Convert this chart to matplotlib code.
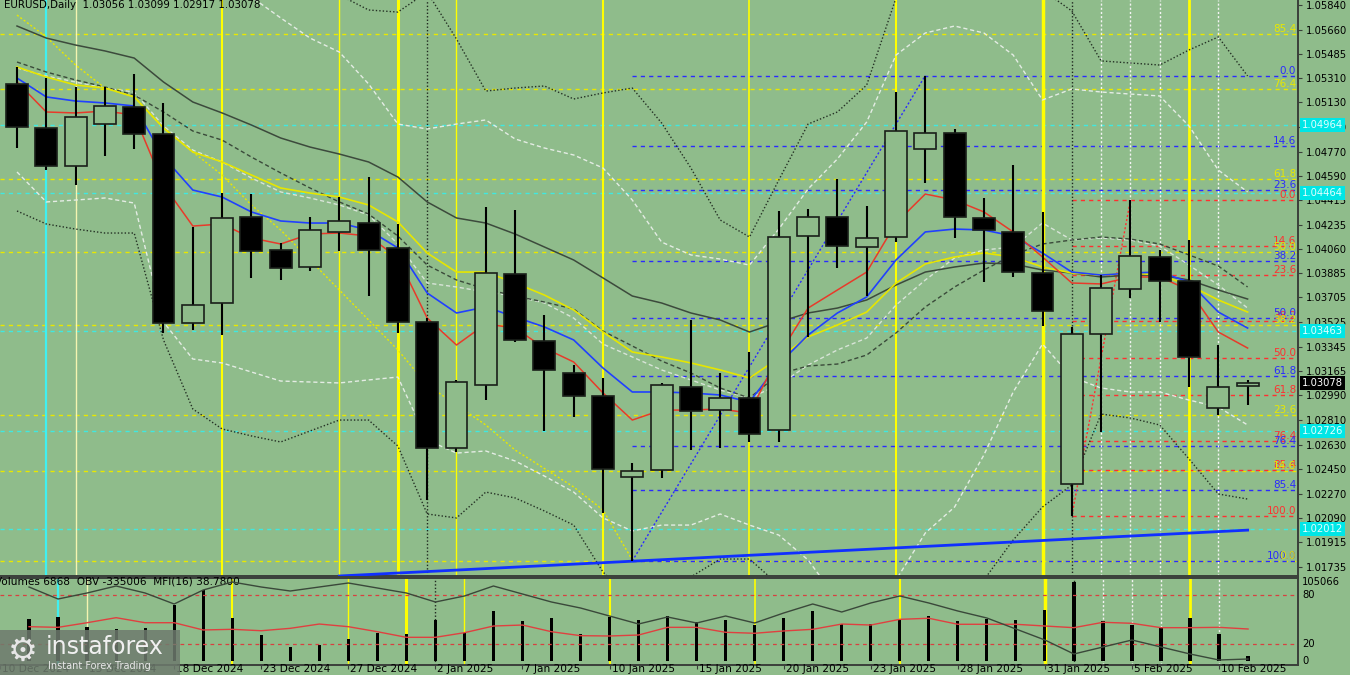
import matplotlib
matplotlib.use("Agg")
import matplotlib.pyplot as plt
from matplotlib.patches import Rectangle
from matplotlib.transforms import blended_transform_factory as blend

# EURUSD daily, 11 Dec 2024 .. 11 Feb 2025 (43 bars)
opens = [1.05264, 1.04942, 1.04665, 1.04971, 1.05096, 1.04898, 1.03518, 1.03664, 1.04292, 1.04051,
         1.03927, 1.04183, 1.04248, 1.04066, 1.03525, 1.02605, 1.03065, 1.03876, 1.03386, 1.03153,
         1.02985, 1.02393, 1.02444, 1.03050, 1.02882, 1.02970, 1.02736, 1.04153, 1.04292, 1.04073,
         1.04146, 1.04789, 1.04906, 1.04285, 1.04183, 1.03883, 1.02342, 1.03438, 1.03766, 1.04000,
         1.03825, 1.02897, 1.03056]
highs = [1.05388, 1.05307, 1.05242, 1.05242, 1.05337, 1.05125, 1.04219, 1.04467, 1.04460, 1.04102,
         1.04292, 1.04438, 1.04584, 1.04241, 1.03554, 1.03102, 1.04365, 1.04343, 1.03576, 1.03211,
         1.03116, 1.02495, 1.03080, 1.03540, 1.03153, 1.03306, 1.04336, 1.04351, 1.04570, 1.04372,
         1.05205, 1.05322, 1.04935, 1.04431, 1.04672, 1.04329, 1.03489, 1.03868, 1.04416, 1.04051,
         1.04124, 1.03357, 1.03099]
lows = [1.04796, 1.04635, 1.04526, 1.04738, 1.04789, 1.03445, 1.03467, 1.03430, 1.03847, 1.03832,
        1.03898, 1.04044, 1.03715, 1.03445, 1.02225, 1.02576, 1.02955, 1.03379, 1.02729, 1.02831,
        1.02130, 1.01780, 1.02386, 1.02590, 1.02605, 1.02649, 1.02649, 1.03416, 1.03920, 1.03715,
        1.04109, 1.04540, 1.04139, 1.03817, 1.03854, 1.03496, 1.02108, 1.02722, 1.03700, 1.03525,
        1.03050, 1.02846, 1.02917]
closes = [1.04949, 1.04665, 1.05022, 1.05103, 1.04898, 1.03518, 1.03649, 1.04285, 1.04044, 1.03920,
          1.04197, 1.04263, 1.04051, 1.03525, 1.02605, 1.03087, 1.03883, 1.03394, 1.03175, 1.02985,
          1.02451, 1.02437, 1.03065, 1.02875, 1.02970, 1.02707, 1.04146, 1.04292, 1.04080, 1.04139,
          1.04920, 1.04906, 1.04292, 1.04197, 1.03890, 1.03606, 1.03438, 1.03773, 1.04007, 1.03825,
          1.03270, 1.03050, 1.03078]

# moving averages
ma_red = [1.05278, 1.05059, 1.05052, 1.05066, 1.05037, 1.04526, 1.04226, 1.04241, 1.04139, 1.04095,
          1.04168, 1.04175, 1.04153, 1.03993, 1.03554, 1.03357, 1.03511, 1.03481, 1.03335, 1.03233,
          1.03007, 1.02809, 1.02882, 1.02882, 1.02890, 1.02860, 1.03284, 1.03627, 1.03759, 1.03890,
          1.04248, 1.04460, 1.04416, 1.04329, 1.04183, 1.04000, 1.03810, 1.03803, 1.03854, 1.03854,
          1.03759, 1.03452, 1.03335]
ma_blue = [1.05307, 1.05169, 1.05139, 1.05125, 1.05103, 1.04730, 1.04489, 1.04438, 1.04329, 1.04263,
           1.04248, 1.04248, 1.04197, 1.04066, 1.03737, 1.03591, 1.03635, 1.03562, 1.03489, 1.03394,
           1.03189, 1.03014, 1.03014, 1.03007, 1.02992, 1.02941, 1.03218, 1.03430, 1.03591, 1.03708,
           1.03978, 1.04183, 1.04204, 1.04197, 1.04153, 1.04029, 1.03890, 1.03868, 1.03883, 1.03890,
           1.03817, 1.03598, 1.03481]
ma_yellow = [1.05388, 1.05315, 1.05256, 1.05234, 1.05169, 1.04942, 1.04767, 1.04694, 1.04599, 1.04504,
             1.04467, 1.04438, 1.04380, 1.04256, 1.04029, 1.03890, 1.03890, 1.03810, 1.03722, 1.03613,
             1.03452, 1.03306, 1.03270, 1.03226, 1.03175, 1.03116, 1.03262, 1.03416, 1.03503, 1.03598,
             1.03810, 1.03949, 1.04000, 1.04029, 1.04000, 1.03927, 1.03883, 1.03868, 1.03883, 1.03868,
             1.03795, 1.03686, 1.03598]
ma_gray = [1.05687, 1.05599, 1.05548, 1.05505, 1.05453, 1.05278, 1.05132, 1.05052, 1.04964, 1.04869,
           1.04803, 1.04752, 1.04694, 1.04584, 1.04402, 1.04285, 1.04248, 1.04168, 1.04073, 1.03978,
           1.03847, 1.03715, 1.03664, 1.03591, 1.03540, 1.03452, 1.03525, 1.03591, 1.03627, 1.03686,
           1.03795, 1.03890, 1.03927, 1.03956, 1.03949, 1.03905, 1.03883, 1.03854, 1.03868, 1.03868,
           1.03832, 1.03759, 1.03693]

# band middles and bands
mid_gray = [1.05424, 1.05351, 1.05293, 1.05242, 1.05183, 1.05059, 1.04920, 1.04854, 1.04730, 1.04614,
            1.04504, 1.04402, 1.04314, 1.04153, 1.03941, 1.03832, 1.03766, 1.03715, 1.03671, 1.03620,
            1.03459, 1.03350, 1.03240, 1.03153, 1.03043, 1.02970, 1.03145, 1.03204, 1.03218, 1.03284,
            1.03445, 1.03635, 1.03781, 1.03905, 1.04015, 1.04095, 1.04124, 1.04146, 1.04131, 1.04095,
            1.04015, 1.03934, 1.03781]
mid_white = [1.05380, 1.05322, 1.05278, 1.05234, 1.05205, 1.04957, 1.04781, 1.04694, 1.04577, 1.04475,
             1.04431, 1.04380, 1.04307, 1.04095, 1.03810, 1.03781, 1.03744, 1.03715, 1.03664, 1.03554,
             1.03364, 1.03270, 1.03175, 1.03102, 1.03028, 1.02970, 1.03065, 1.03211, 1.03321, 1.03408,
             1.03649, 1.03832, 1.03993, 1.04051, 1.04073, 1.04248, 1.04124, 1.04139, 1.04124, 1.04080,
             1.03941, 1.03795, 1.03627]
band_out_hi = [1.06461, 1.06425, 1.06352, 1.06279, 1.06206, 1.06242, 1.06169, 1.06133, 1.06096, 1.06023,
               1.05965, 1.05914, 1.05804, 1.05789, 1.05935, 1.05592, 1.05212, 1.05234, 1.05249, 1.05154,
               1.05198, 1.05234, 1.04979, 1.04650, 1.04270, 1.04146, 1.04562, 1.04971, 1.05059, 1.05256,
               1.05892, 1.06096, 1.06206, 1.06169, 1.06060, 1.05950, 1.05797, 1.05432, 1.05417, 1.05402,
               1.05512, 1.05607, 1.05322]
band_out_lo = [1.04336, 1.04241, 1.04204, 1.04175, 1.04175, 1.03394, 1.02890, 1.02744, 1.02693, 1.02649,
               1.02729, 1.02809, 1.02809, 1.02619, 1.02123, 1.02094, 1.02283, 1.02240, 1.02145, 1.02042,
               1.01699, 1.01495, 1.01509, 1.01663, 1.01794, 1.01794, 1.01604, 1.01422, 1.01312, 1.01202,
               1.01056, 1.01056, 1.01202, 1.01641, 1.01933, 1.02174, 1.02335, 1.02853, 1.02824, 1.02773,
               1.02525, 1.02269, 1.02232]
band_in_hi = [1.06315, 1.06279, 1.06242, 1.06206, 1.06169, 1.06096, 1.06023, 1.05950, 1.05899, 1.05746,
              1.05599, 1.05497, 1.05264, 1.04971, 1.04935, 1.04971, 1.05001, 1.04862, 1.04796, 1.04745,
              1.04650, 1.04416, 1.04109, 1.04015, 1.03985, 1.03941, 1.04204, 1.04497, 1.04716, 1.04986,
              1.05475, 1.05636, 1.05687, 1.05636, 1.05475, 1.05147, 1.05227, 1.05205, 1.05190, 1.05176,
              1.04957, 1.04635, 1.04475]
band_in_lo = [1.04621, 1.04402, 1.04416, 1.04431, 1.04394, 1.03525, 1.03255, 1.03226, 1.03160, 1.03094,
              1.03087, 1.03080, 1.03102, 1.03123, 1.02663, 1.02568, 1.02583, 1.02510, 1.02400, 1.02283,
              1.02094, 1.01999, 1.02042, 1.02042, 1.02123, 1.02042, 1.01969, 1.01787, 1.01495, 1.01422,
              1.01641, 1.01984, 1.02174, 1.02554, 1.03014, 1.03364, 1.03123, 1.03043, 1.03014, 1.03014,
              1.02955, 1.02904, 1.02773]
diag_yellow = [1.05767, 1.05607, 1.05402, 1.05234, 1.05169, 1.04942, 1.04767, 1.04599, 1.04380, 1.04197,
               1.03978, 1.03759, 1.03540, 1.03321, 1.03065, 1.02919, 1.02773, 1.02590, 1.02455, 1.02320,
               1.02152, 1.01787]

# lower window
volumes = [55900, 58500, 45200, 42600, 43900, 74500, 94400, 57200, 34600, 18600, 21300, 29300, 37200,
           35900, 54500, 37200, 66500, 53200, 57200, 35900, 58500, 54500, 59800, 51900, 54500, 47900,
           57200, 66500, 49200, 49200, 55900, 59800, 53200, 55900, 54500, 67800, 105066, 53200, 47900,
           43900, 57200, 35900, 6868]
obv_k = [385, 265, 325, 395, 325, 215, 355, 435, 385, 345, 385, 425, 375, 325, 235, 295, 395, 315, 235,
         175, 95, 15, 85, 25, 95, 25, 125, 215, 135, 225, 295, 225, 145, 75, -35, -145, -285, -215, -145,
         -215, -285, -345, -335.006]
mfi = [41.6, 40.8, 46.4, 52.5, 46.4, 46.4, 37.6, 38.4, 36.7, 39.6, 44.8, 41.6, 35.5, 28.7, 28.7, 34.3,
       42.4, 43.6, 35.5, 30.7, 30.3, 31.5, 40.8, 40.8, 34.8, 33.6, 36.4, 38.4, 44.8, 43.6, 50.5, 51.8,
       44.5, 44.5, 44.5, 42.4, 40.4, 46.9, 45.7, 40.4, 40.4, 40.8, 38.78]

date_idx = [-1, 2, 5, 8, 11, 14, 17, 20, 23, 26, 29, 32, 35, 38, 41]
date_lbl = ["10 Dec 2024", "13 Dec 2024", "18 Dec 2024", "23 Dec 2024", "27 Dec 2024", "2 Jan 2025",
            "7 Jan 2025", "10 Jan 2025", "15 Jan 2025", "20 Jan 2025", "23 Jan 2025", "28 Jan 2025",
            "31 Jan 2025", "5 Feb 2025", "10 Feb 2025"]

price_ticks = [1.05840, 1.05660, 1.05485, 1.05310, 1.05130, 1.04950, 1.04770, 1.04590, 1.04415,
               1.04235, 1.04060, 1.03885, 1.03705, 1.03525, 1.03345, 1.03165, 1.02990, 1.02810,
               1.02630, 1.02450, 1.02270, 1.02090, 1.01915, 1.01735]
cyan_levels = [1.04964, 1.04464, 1.03463, 1.02726, 1.02012]
fib_ratios = [0.0, 14.6, 23.6, 38.2, 50.0, 61.8, 76.4, 85.4, 100.0]
blue_fib = (1.05325, 1.01780, 21)   # high, low, start bar
red_fib = (1.04416, 1.02108, 36)
yel_fib = (1.06290, 1.01780)
trend_x = [11, 42]
trend_y = [1.01670, 1.02005]

vl_yellow = [7, 11, 13, 15, 20, 25, 30, 35, 40]
vl_yellow_w = [1.5, 1.0, 2.2, 1.0, 1.5, 1.2, 1.5, 2.5, 2.0]
vl_white = [37, 38, 39, 41]
vl_black = [14, 36]

BG = "#8fbc8b"
YEL = "#e8e800"
CYAN = "#40e8e0"
BLUE = "#2a2aff"
RED = "#ff3030"
FRAME = "#3a3f3a"
SCALE_FS = 7.2

W, H = 1350, 675
XL, XR = -0.58, 43.72
x = list(range(len(opens)))

fig = plt.figure(figsize=(13.5, 6.75), dpi=100)
fig.patch.set_facecolor(BG)
ax = fig.add_axes([0, 1 - 576 / H, 1298 / W, 576 / H])
ax2 = fig.add_axes([0, 1 - 665 / H, 1298 / W, 87 / H])
for a in (ax, ax2):
    a.set_facecolor(BG)
    a.set_xlim(XL, XR)
    a.spines["left"].set_visible(False)
    for s in ("right", "bottom", "top"):
        a.spines[s].set_color(FRAME)
        a.spines[s].set_linewidth(1.4)
ax.spines["top"].set_visible(False)
ax.set_ylim(1.01670, 1.05877)

# horizontal levels
for lv in cyan_levels:
    ax.axhline(lv, color=CYAN, lw=1, ls=(0, (3, 3)), zorder=1)
for r in fib_ratios:
    yv = yel_fib[1] + r / 100 * (yel_fib[0] - yel_fib[1])
    ax.axhline(yv, color=YEL, lw=1, ls=(0, (3, 3)), zorder=1)
for hi, lo, start, col in (blue_fib + (BLUE,), red_fib + (RED,)):
    for r in fib_ratios:
        ax.hlines(hi - r / 100 * (hi - lo), start, XR, color=col, lw=1, ls=(0, (3, 3)), zorder=1)

# vertical lines (both windows)
for a in (ax, ax2):
    a.axvline(1, color="#3ff0f0", lw=1.6, zorder=1.5)
    a.axvline(2, color="#f4f4b0", lw=1.0, zorder=1.5)
    for v, w in zip(vl_yellow, vl_yellow_w):
        a.axvline(v, color="#ffff00", lw=w, zorder=1.5)
    for v in vl_black:
        a.axvline(v, color="#202820", lw=1, ls=(0, (1, 1.5)), zorder=1.5)
    for v in vl_white:
        a.axvline(v, color="#f4f4f4", lw=1, ls=(0, (1.5, 1.5)), zorder=1.5)

# bands
ax.plot(x, band_out_hi, color="#243024", lw=1, ls=(0, (1, 1.5)), zorder=2)
ax.plot(x, band_out_lo, color="#243024", lw=1, ls=(0, (1, 1.5)), zorder=2)
ax.plot(x, band_in_hi, color="#e4ece4", lw=1, ls=(0, (3, 2)), zorder=2)
ax.plot(x, band_in_lo, color="#e4ece4", lw=1, ls=(0, (3, 2)), zorder=2)
ax.plot(x, mid_white, color="#d8e4d8", lw=1, ls=(0, (3, 2)), zorder=2)
ax.plot(x, mid_gray, color="#3a4a3a", lw=1, ls=(0, (3, 2)), zorder=2)
ax.plot(x[:len(diag_yellow)], diag_yellow, color=YEL, lw=1, ls=(0, (1.5, 1.5)), zorder=2)

# fib anchor diagonals
ax.plot([blue_fib[2], 31], [blue_fib[1], blue_fib[0]], color=BLUE, lw=1, ls=(0, (1.5, 1.5)), zorder=2)
ax.plot([red_fib[2], 38], [red_fib[1], red_fib[0]], color=RED, lw=1, ls=(0, (1.5, 1.5)), zorder=2)

# moving averages
ax.plot(x, ma_gray, color="#3c4a3c", lw=1.1, zorder=3)
ax.plot(x, ma_yellow, color="#e6e600", lw=1.2, zorder=3)
ax.plot(x, ma_blue, color="#2040ff", lw=1.2, zorder=3)
ax.plot(x, ma_red, color="#e83a2a", lw=1.1, zorder=3)

ax.plot(trend_x, trend_y, color="#1030ff", lw=2, zorder=3.5)

# candles
ax.vlines(x, lows, highs, color="black", lw=1.5, zorder=4)
for i in x:
    o, c = opens[i], closes[i]
    bear = c < o
    ax.bar(i, max(abs(c - o), 0.00003), bottom=min(o, c), width=0.75,
           color="black" if bear else BG, edgecolor="#1a1f1a", lw=1.2, zorder=5)

# right price scale
ax.yaxis.tick_right()
ax.set_yticks(price_ticks)
ax.set_yticklabels([f"{t:.5f}" for t in price_ticks])
ax.tick_params(axis="y", labelsize=SCALE_FS, length=3, color=FRAME, pad=3)
ax.set_xticks([])

tr = blend(ax.transAxes, ax.transData)
for lv in cyan_levels:
    ax.text(1.003, lv, f"{lv:.5f}", transform=tr, fontsize=SCALE_FS, color="#e0ffff", va="center",
            ha="left", bbox=dict(boxstyle="square,pad=0.2", fc="#00e6e6", ec="none"), zorder=10,
            clip_on=False)
ax.text(1.003, closes[-1], f"{closes[-1]:.5f}", transform=tr, fontsize=SCALE_FS, color="white",
        va="center", ha="left", bbox=dict(boxstyle="square,pad=0.2", fc="black", ec="none"), zorder=10,
        clip_on=False)

# fib labels
for hi, lo, start, col in (red_fib + (RED,), blue_fib + (BLUE,)):
    for r in fib_ratios:
        ax.text(0.9985, hi - r / 100 * (hi - lo), f"{r:.1f}", transform=tr, fontsize=7.5, color=col,
                ha="right", va="bottom", zorder=8)
for r in fib_ratios:
    yv = yel_fib[1] + r / 100 * (yel_fib[0] - yel_fib[1])
    if yv < 1.0585:
        ax.text(0.9985, yv, f"{r:.1f}", transform=tr, fontsize=7.5, color=YEL, ha="right", va="bottom",
                zorder=9)

ax.text(4 / 1298, 1 - 5 / 576, f"EURUSD,Daily  {opens[-1]:.5f} {highs[-1]:.5f} {lows[-1]:.5f} {closes[-1]:.5f}",
        transform=ax.transAxes, fontsize=7.4, color="black", va="center", ha="left", zorder=10)

# lower window: volumes, OBV, MFI
ax2.set_ylim(-5320, 110390)
ax2.bar(x, volumes, width=0.11, color="black", zorder=3)
ax_m = ax2.twinx()
ax_m.set_ylim(-4.85, 100.6)
ax_m.set_xlim(XL, XR)
ax_m.axhline(80, color="#d84040", lw=0.9, ls=(0, (3, 3)))
ax_m.axhline(20, color="#d84040", lw=0.9, ls=(0, (3, 3)))
ax_m.plot(x, mfi, color="#e04040", lw=1)
ax_m.set_axis_off()
ax_o = ax2.twinx()
ax_o.set_ylim(-395, 475)
ax_o.set_xlim(XL, XR)
ax_o.plot(x, obv_k, color="#3a483a", lw=1)
ax_o.set_axis_off()

ax2.set_yticks([])
ax2.set_xticks(date_idx)
ax2.set_xticklabels([])
ax2.tick_params(axis="x", length=3, color=FRAME)
trb = blend(ax2.transData, ax2.transAxes)
for d, lbl in zip(date_idx, date_lbl):
    ax2.text(d + 0.07, -0.05, lbl, transform=trb, fontsize=7.6, ha="left", va="center", clip_on=False)

trv = blend(ax2.transAxes, ax2.transData)
ax2.text(1.003, max(volumes), f"{max(volumes)}", transform=trv, fontsize=SCALE_FS, va="center", ha="left")
trm = blend(ax_m.transAxes, ax_m.transData)
for v in (80, 20, 0):
    ax_m.text(1.003, v, str(v), transform=trm, fontsize=SCALE_FS, va="center", ha="left")
ax2.text(-5 / 1298, 1 - 4 / 87, f"Volumes {volumes[-1]}  OBV {round(obv_k[-1] * 1000)}  MFI(16) {mfi[-1]:.4f}",
         transform=ax2.transAxes, fontsize=7.6, va="center", ha="left", zorder=10)

# watermark
fig.patches.append(Rectangle((0, 0), 180 / W, 45 / H, transform=fig.transFigure, fc="#6e7b6e",
                             alpha=0.85, ec="none", zorder=5))
fig.text(8 / W, 1 - 651 / H, "\u2699", fontsize=24, color="#e6e6e6", va="center", ha="left", zorder=6)
fig.text(46 / W, 1 - 647 / H, "instaforex", fontsize=17, color="#f0f0f0", va="center", ha="left", zorder=6)
fig.text(48 / W, 1 - 666 / H, "Instant Forex Trading", fontsize=7, color="#e8e8e8", va="center",
         ha="left", zorder=6)

fig.savefig("out.png", dpi=100, facecolor=BG)
